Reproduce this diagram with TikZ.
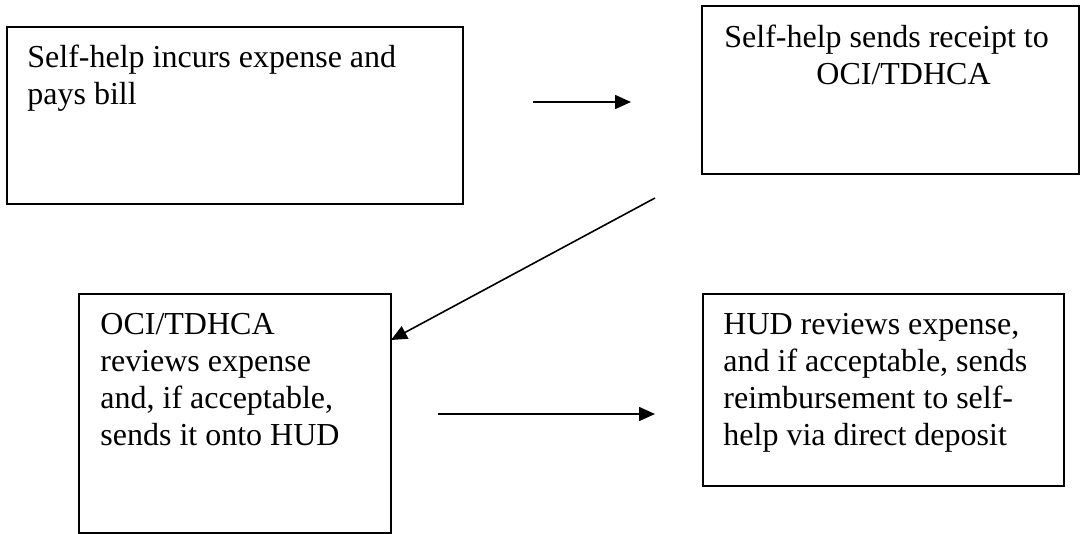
\documentclass[tikz,border=0pt]{standalone}
\usepackage{fontspec}
\setmainfont{Liberation Serif}
\usetikzlibrary{arrows.meta}

\begin{document}
\begin{tikzpicture}[x=0.5pt, y=-0.5pt, font=\fontsize{16}{18.5}\selectfont,
  box/.style={draw, line width=1pt, inner sep=0pt, outer sep=0pt},
  txt/.style={anchor=north west, align=left, inner sep=0pt},
  flow/.style={line width=0.8pt, -{Triangle[length=8pt, width=7pt]}}]
  \useasboundingbox (0,0) rectangle (1080,534);
  % boxes
  \node[box, minimum width=228pt, minimum height=88.5pt] (incur) at (235,115.5) {};
  \node[box, minimum width=188.5pt, minimum height=84pt] (receipt) at (890.5,90) {};
  \node[box, minimum width=156pt, minimum height=119.5pt] (review) at (235,413.5) {};
  \node[box, minimum width=180.5pt, minimum height=96pt] (hud) at (883.5,390) {};
  % texts
  \node[txt] (incurtxt) at (27,45) {Self-help incurs expense and\\pays bill};
  \node[txt] (receipttxt) at (724,25) {Self-help sends receipt to\\\hspace*{46pt}OCI/TDHCA};
  \node[txt] (reviewtxt) at (100,313) {OCI/TDHCA\\reviews expense\\and, if acceptable,\\sends it onto HUD};
  \node[txt] (hudtxt) at (723,313) {HUD reviews expense,\\and if acceptable, sends\\reimbursement to self-\\help via direct deposit};
  % connectors
  \coordinate (go1) at (533,102);
  \coordinate (to1) at (631,102);
  \coordinate (go2) at (655,198);
  \coordinate (go3) at (438,414);
  \coordinate (to3) at (655,414);
  \draw[flow] (go1) -- (to1);
  \draw[flow] (go2) -- ([yshift=36.75pt]review.east);
  \draw[flow] (go3) -- (to3);
\end{tikzpicture}
\end{document}
